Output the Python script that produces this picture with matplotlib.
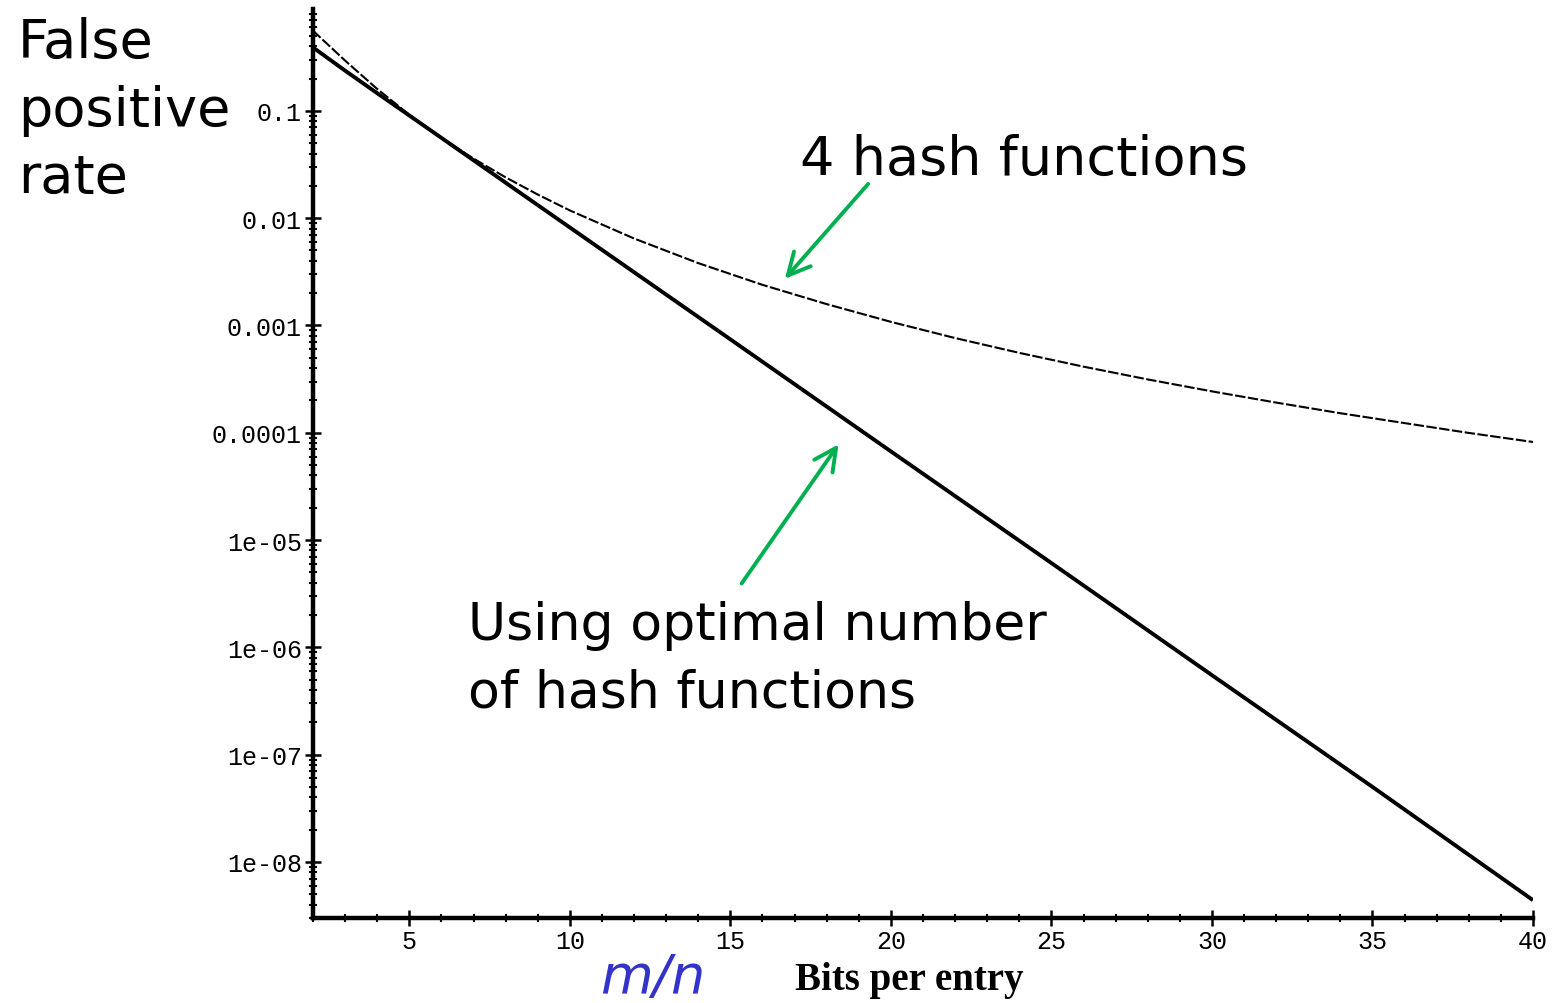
import numpy as np
import matplotlib
matplotlib.use('Agg')
import matplotlib.pyplot as plt
from matplotlib.ticker import FixedLocator, FixedFormatter, MultipleLocator, NullFormatter

# values (bits per entry vs false positive rate)
bits_4 = [2, 3, 4, 5, 6, 7, 8, 9, 10, 12, 14, 16, 18, 20, 22, 24, 26, 28, 30, 32, 34, 36, 38, 40]
fpr_4 = [0.559, 0.294, 0.160, 0.0920, 0.0561, 0.0359, 0.0240, 0.0166, 0.0118, 0.00646,
         0.00381, 0.00239, 0.00158, 0.00108, 0.000763, 0.000555, 0.000413, 0.000314,
         0.000243, 0.000191, 0.000152, 0.000123, 0.0000996, 0.0000820]

bits_opt = [2, 3, 4, 5, 6, 8, 10, 15, 20, 25, 30, 35, 40]
fpr_opt = [0.39, 0.237, 0.146, 0.0905, 0.0560, 0.0214, 0.00819, 0.000742,
           6.7e-5, 6.1e-6, 5.5e-7, 5.0e-8, 4.4e-9]

y_ticks = [0.1, 0.01, 0.001, 0.0001, 1e-5, 1e-6, 1e-7, 1e-8]
y_tick_labels = ['0.1', '0.01', '0.001', '0.0001', '1e-05', '1e-06', '1e-07', '1e-08']
x_ticks = [5, 10, 15, 20, 25, 30, 35, 40]

green = '#00b050'
hand = 'DejaVu Sans'
W, H = 1553, 1004


def px(x, y):
    # figure fraction from reference pixel position (top-left origin)
    return x / W, 1 - y / H


fig = plt.figure(figsize=(15.53, 10.04), dpi=100)
ax = fig.add_axes([313 / W, 85 / H, 1220 / W, 909 / H])

ax.plot(bits_opt, fpr_opt, color='black', lw=2.8, solid_capstyle='butt')
ax.plot(bits_4, fpr_4, color='black', lw=1.5, linestyle=(0, (5, 1.2)))

ax.set_yscale('log')
ax.set_xlim(2, 40)
ax.set_ylim(3.0e-9, 0.89)

ax.spines['top'].set_visible(False)
ax.spines['right'].set_visible(False)
ax.spines['left'].set_linewidth(3.2)
ax.spines['bottom'].set_linewidth(3.2)

ax.yaxis.set_major_locator(FixedLocator(y_ticks))
ax.yaxis.set_major_formatter(FixedFormatter(y_tick_labels))
minor_y = [m * 10.0 ** e for e in range(-9, 0) for m in range(2, 10)]
ax.yaxis.set_minor_locator(FixedLocator(minor_y))
ax.yaxis.set_minor_formatter(NullFormatter())

ax.xaxis.set_major_locator(FixedLocator(x_ticks))
ax.xaxis.set_minor_locator(MultipleLocator(1))

ax.tick_params(which='major', direction='inout', length=12, width=1.8,
               labelsize=18, pad=2)
ax.tick_params(which='minor', direction='inout', length=6, width=1.5)
for lab in ax.get_xticklabels() + ax.get_yticklabels():
    lab.set_family('Liberation Mono')

# annotations
for txt, yb in [('False', 58), ('positive', 126), ('rate', 194)]:
    fig.text(*px(18, yb), txt, family=hand, fontsize=39, va='baseline', ha='left')
fig.text(*px(800, 175), '4 hash functions', family=hand, fontsize=39,
         va='baseline', ha='left')
fig.text(*px(468, 640), 'Using optimal number', family=hand, fontsize=37.5,
         va='baseline', ha='left')
fig.text(*px(468, 708), 'of hash functions', family=hand, fontsize=37.5,
         va='baseline', ha='left')

ax.annotate('', xy=(16.64, 0.0026), xytext=(19.35, 0.0218),
            arrowprops=dict(arrowstyle='->', color=green, lw=2.8, mutation_scale=40))
ax.annotate('', xy=(18.42, 8.2e-5), xytext=(15.30, 3.74e-6),
            arrowprops=dict(arrowstyle='->', color=green, lw=2.8, mutation_scale=40))

fig.text(*px(600, 993), 'm/n', family=hand, style='italic', fontsize=39,
         color='#3333cc', va='baseline', ha='left')
fig.text(*px(795, 990), 'Bits per entry', family='Liberation Serif',
         weight='bold', fontsize=28, va='baseline', ha='left')

fig.savefig('out.png', dpi=100)
